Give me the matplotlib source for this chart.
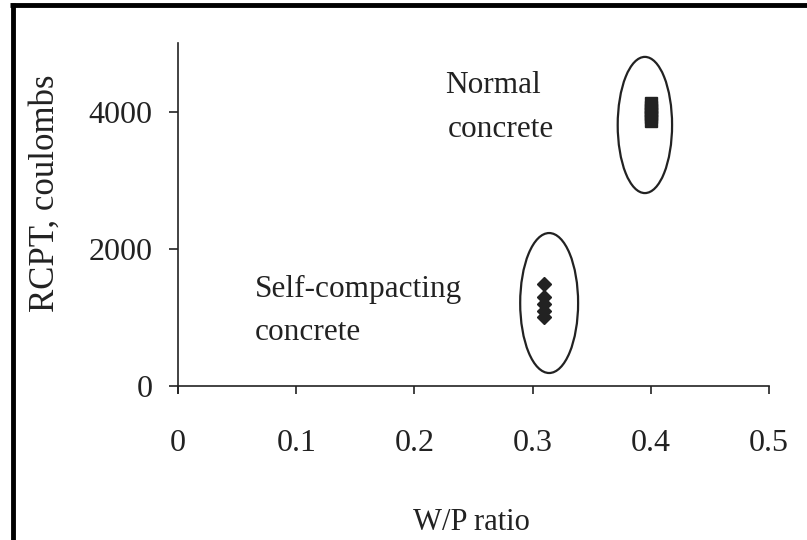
import matplotlib
matplotlib.use("Agg")
import matplotlib.pyplot as plt
from matplotlib.patches import Ellipse
from matplotlib.lines import Line2D

plt.rcParams['font.family'] = ['Liberation Serif', 'DejaVu Serif']

# Data
scc_x = [0.31, 0.31, 0.31, 0.31, 0.31]
scc_y = [1480, 1300, 1200, 1100, 1000]
nc_x = [0.40, 0.40, 0.40, 0.40, 0.40, 0.40]
nc_y = [3870, 3920, 3970, 4020, 4070, 4120]
# ellipses: center x, center y, width, height
scc_ell = (0.314, 1210, 0.049, 2040)
nc_ell = (0.395, 3805, 0.046, 1985)
x_ticks = [0, 0.1, 0.2, 0.3, 0.4, 0.5]
x_labels = ["0", "0.1", "0.2", "0.3", "0.4", "0.5"]
y_ticks = [0, 2000, 4000]
y_labels = ["0", "2000", "4000"]

W, H = 807, 540
fig = plt.figure(figsize=(W / 100, H / 100), dpi=100)
ax = fig.add_axes([178 / W, 1 - 392.9 / H, (769 - 178) / W, (392.9 - 43) / H])
ax.set_xlim(0, 0.5)
ax.set_ylim(-100, 5000)

ink = '#222222'
fs_tick = 23
fs_txt = 22.5

for s in ['top', 'right']:
    ax.spines[s].set_visible(False)
ax.spines['bottom'].set_position(('data', 0))
for s in ['left', 'bottom']:
    ax.spines[s].set_color(ink)
    ax.spines[s].set_linewidth(1.2)

ax.set_xticks(x_ticks)
ax.set_xticklabels(x_labels)
ax.set_yticks(y_ticks)
ax.set_yticklabels(y_labels)
ax.tick_params(axis='x', direction='out', length=6, width=1.2, pad=25,
               labelsize=fs_tick, colors=ink)
ax.tick_params(axis='y', direction='out', length=6.5, width=1.2, pad=12,
               labelsize=fs_tick, colors=ink)

for (cx, cy, w, h) in [scc_ell, nc_ell]:
    ax.add_patch(Ellipse((cx, cy), w, h, fill=False, edgecolor=ink, lw=1.6))

ax.plot(scc_x, scc_y, 'D', color=ink, ms=7, linestyle='none')
ax.plot(nc_x, nc_y, 's', color=ink, ms=8, linestyle='none')

ax.text(0.065, 1297, "Self-compacting", fontsize=fs_txt, color=ink, va='baseline', ha='left')
ax.text(0.065, 670, "concrete", fontsize=fs_txt, color=ink, va='baseline', ha='left')
ax.text(0.226, 4271, "Normal", fontsize=fs_txt, color=ink, va='baseline', ha='left')
ax.text(0.228, 3630, "concrete", fontsize=fs_txt, color=ink, va='baseline', ha='left')

fig.text(471 / W, 1 - 522 / H, "W/P ratio", fontsize=22, color=ink, ha='center', va='center')
fig.text(45 / W, 1 - 193 / H, "RCPT, coulombs", fontsize=25, color=ink,
         ha='center', va='center', rotation=90)

# border (top and left)
fig.add_artist(Line2D([10 / W, 1], [1 - 5 / H, 1 - 5 / H], color='black', lw=3.5,
                      transform=fig.transFigure, solid_capstyle='butt'))
fig.add_artist(Line2D([12.5 / W, 12.5 / W], [0, 1 - 3 / H], color='black', lw=3.5,
                      transform=fig.transFigure, solid_capstyle='butt'))

fig.savefig("out.png", dpi=100)
